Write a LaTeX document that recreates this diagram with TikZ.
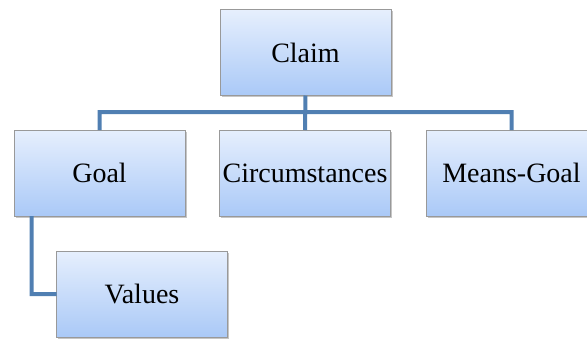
\documentclass[tikz,border=0pt]{standalone}
\usepackage{tikz}
\usepackage{xcolor}
\usepackage{fontspec}
\newfontfamily\boxfont{Liberation Serif}
\usetikzlibrary{shadows}

\definecolor{boxtop}{RGB}{230,239,253}
\definecolor{boxbot}{RGB}{170,201,247}
\definecolor{linkblue}{RGB}{80,127,178}

\begin{document}
\begin{tikzpicture}[x=1pt, y=1pt,
        box/.style={rectangle, draw=gray!80, line width=1pt, top color=boxtop, bottom color=boxbot,
            minimum width=171pt, minimum height=86pt, inner sep=0pt, outer sep=0pt,
            font=\boxfont\fontsize{28}{32}\selectfont,
            drop shadow={shadow xshift=1.5pt, shadow yshift=-1.8pt, opacity=0.45}},
        link/.style={draw=linkblue, line width=4pt}]
        \useasboundingbox (0, 0) rectangle (587, -338);

        \node[box] (claim) at (305.5, -52.5) {Claim};
        \node[box] (goal) at (99.5, -173) {Goal};
        \node[box] (circ) at (305, -173) {Circumstances};
        \node[box] (means) at (511.5, -173) {Means-Goal};
        \node[box] (values) at (142, -294) {Values};

        \draw[link] (goal.north) -- ++(0, 18) -| (means.north)
            (claim.south) -- (circ.north)
            ([xshift=17.5pt]goal.south west) |- (values.west);
    \end{tikzpicture}
\end{document}
